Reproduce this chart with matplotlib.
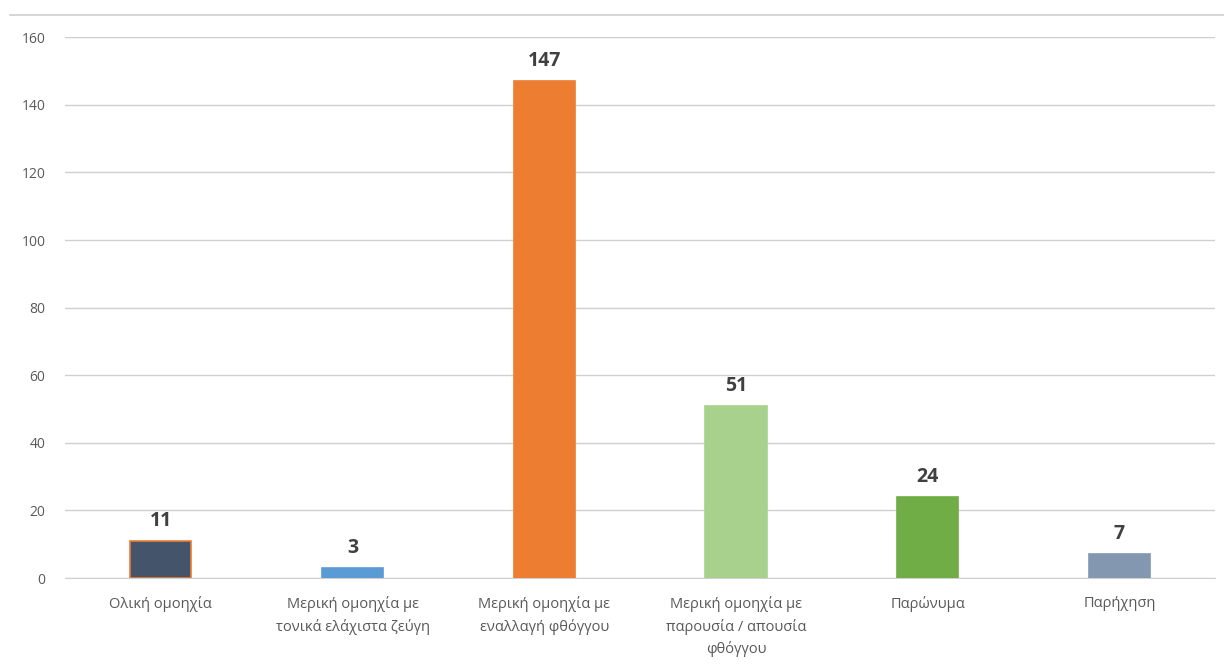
import matplotlib
matplotlib.use("Agg")
from matplotlib import pyplot as plt
from matplotlib.lines import Line2D

categories = ["Ολική ομοηχία",
              "Μερική ομοηχία με\nτονικά ελάχιστα ζεύγη",
              "Μερική ομοηχία με\nεναλλαγή φθόγγου",
              "Μερική ομοηχία με\nπαρουσία / απουσία\nφθόγγου",
              "Παρώνυμα",
              "Παρήχηση"]
values = [11, 3, 147, 51, 24, 7]
colors = ["#44546A", "#5B9BD5", "#ED7D31", "#A9D18E", "#70AD47", "#8497B0"]
edges = ["#ED7D31", "#5B9BD5", "#ED7D31", "#A9D18E", "#70AD47", "#8497B0"]
yticks = [0, 20, 40, 60, 80, 100, 120, 140, 160]

plt.rcParams['font.family'] = ['Open Sans', 'DejaVu Sans']

fig = plt.figure(figsize=(12.24, 6.66), dpi=100)
ax = fig.add_axes([0.053, 0.132, 0.940, 0.812])

x = range(len(categories))
bars = ax.bar(x, values, width=0.32, color=colors, edgecolor=edges, linewidth=1.2, zorder=3)

for b, v in zip(bars, values):
    ax.text(b.get_x() + b.get_width() / 2, v + 3, str(v), ha="center", va="bottom",
            fontsize=14, fontweight="bold", color="#404040")

ax.set_xlim(-0.5, len(categories) - 0.5)
ax.set_ylim(0, 160)
ax.set_yticks(yticks)
ax.set_xticks(list(x))
ax.set_xticklabels(categories, fontsize=10.5, color="#595959", linespacing=1.55)
ax.tick_params(axis="y", labelsize=10, labelcolor="#595959", length=0, pad=14)
ax.tick_params(axis="x", length=0, pad=13)
ax.grid(axis="y", color="#D0D0D0", linewidth=1, zorder=0)
for s in ["top", "right", "left"]:
    ax.spines[s].set_visible(False)
ax.spines["bottom"].set_color("#D0D0D0")

fig.add_artist(Line2D([0.008, 1.0], [0.977, 0.977], color="#D0D0D0", linewidth=1.2))

fig.savefig("out.png", dpi=100)
